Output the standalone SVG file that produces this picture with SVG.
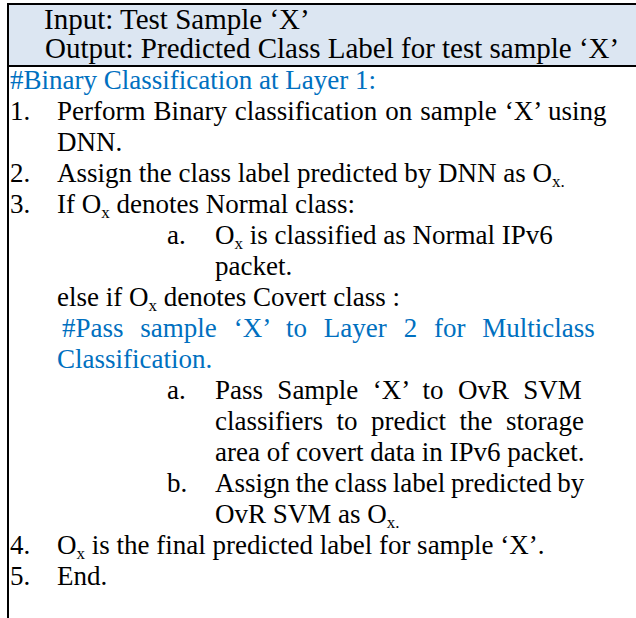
<svg xmlns="http://www.w3.org/2000/svg" width="636" height="618" viewBox="0 0 636 618">
  <style>
    .t { font-family: "Liberation Serif", "Times New Roman", serif; font-size: 27px; fill: #000; }
    .h { font-size: 29px; }
    .c { fill: #0070C0; }
    .sub { font-size: 17px; }
    .rule { stroke: #000; stroke-width: 2; fill: none; }
  </style>

  <!-- header band: input / output -->
  <g id="header">
    <rect x="8" y="4" width="628" height="62" fill="#DCE6F2"/>
    <text class="t h" x="44" y="29">Input: Test Sample ‘X’</text>
    <text class="t h" x="45" y="58">Output: Predicted Class Label for test sample ‘X’</text>
  </g>

  <!-- frame rules -->
  <g id="frame">
    <line class="rule" x1="7" y1="4" x2="636" y2="4"/>
    <line class="rule" x1="7" y1="66" x2="636" y2="66"/>
    <line class="rule" x1="8" y1="3" x2="8" y2="618"/>
  </g>

  <!-- algorithm steps -->
  <g id="body">
    <text class="t c" x="10" y="89">#Binary Classification at Layer 1:</text>

    <text class="t" x="10" y="120">1.</text>
    <text class="t" x="57" y="120" word-spacing="1.2">Perform Binary classification on sample ‘X’ using</text>
    <text class="t" x="57" y="151">DNN.</text>

    <text class="t" x="10" y="182">2.</text>
    <text class="t" x="57" y="182">Assign the class label predicted by DNN as O<tspan class="sub" baseline-shift="-5">x.</tspan></text>

    <text class="t" x="10" y="213">3.</text>
    <text class="t" x="57" y="213">If O<tspan class="sub" baseline-shift="-5">x</tspan> denotes Normal class:</text>

    <text class="t" x="167" y="244">a.</text>
    <text class="t" x="215" y="244">O<tspan class="sub" baseline-shift="-5">x</tspan> is classified as Normal IPv6</text>
    <text class="t" x="215" y="275">packet.</text>

    <text class="t" x="57" y="306">else if O<tspan class="sub" baseline-shift="-5">x</tspan> denotes Covert class :</text>

    <text class="t c" x="62" y="337" word-spacing="10.1">#Pass sample ‘X’ to Layer 2 for Multiclass</text>
    <text class="t c" x="57" y="368">Classification.</text>

    <text class="t" x="167" y="399">a.</text>
    <text class="t" x="215" y="399" word-spacing="7.6">Pass Sample ‘X’ to OvR SVM</text>
    <text class="t" x="215" y="430" word-spacing="6.8">classifiers to predict the storage</text>
    <text class="t" x="215" y="461">area of covert data in IPv6 packet.</text>

    <text class="t" x="167" y="492">b.</text>
    <text class="t" x="215" y="492" word-spacing="-1">Assign the class label predicted by</text>
    <text class="t" x="215" y="523">OvR SVM as O<tspan class="sub" baseline-shift="-5">x.</tspan></text>

    <text class="t" x="10" y="554">4.</text>
    <text class="t" x="57" y="554">O<tspan class="sub" baseline-shift="-5">x</tspan> is the final predicted label for sample ‘X’.</text>

    <text class="t" x="10" y="585">5.</text>
    <text class="t" x="57" y="585">End.</text>
  </g>
</svg>
